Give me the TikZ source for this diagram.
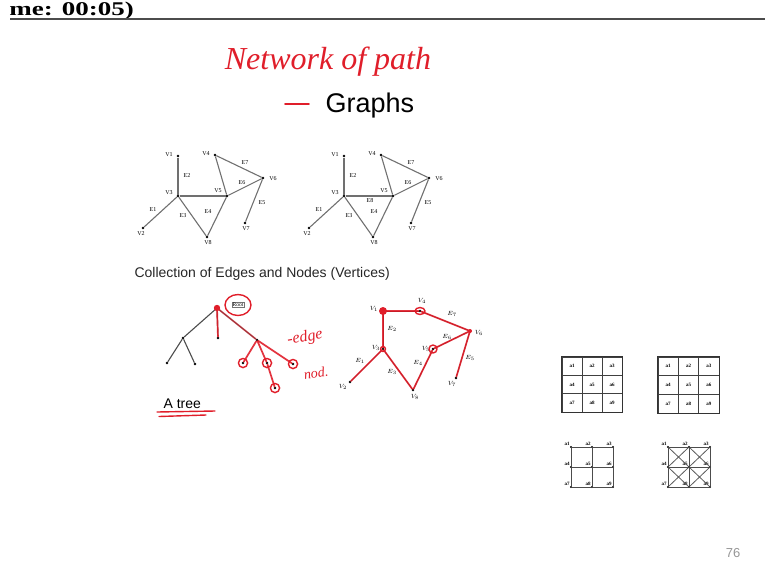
\documentclass[tikz,border=0pt]{standalone}
\usepackage{fontspec}
\setmainfont{Liberation Serif}
\setsansfont{Liberation Sans}
\usepackage{tikz}

\definecolor{ink}{RGB}{224,30,42}
\definecolor{edgegray}{RGB}{112,112,112}
\definecolor{pagegray}{RGB}{150,150,150}

\tikzset{
	vtx/.style={circle,fill=black,inner sep=0pt,minimum size=2.6pt},
	vlbl/.style={font=\fontsize{6}{6}\selectfont,inner sep=0.5pt},
	gedge/.style={draw=edgegray,line width=1.1pt},
	pen/.style={draw=ink,line width=1.4pt,line cap=round,line join=round},
	trace/.style={draw=ink,line width=1.7pt,opacity=0.9,line cap=round},
	cellbox/.style={draw=black!75,line width=0.8pt,minimum width=20pt,minimum height=18.3pt,inner sep=0pt,font=\bfseries\fontsize{5}{5}\selectfont},
	cell/.style={font=\bfseries\fontsize{5}{5}\selectfont,inner sep=0.3pt,label distance=0pt},
}

\begin{document}
\begin{tikzpicture}[x=1pt,y=-1pt]
	\useasboundingbox (0,0) rectangle (765,579);
	
	% header
	\node[anchor=base east,font=\bfseries\fontsize{27}{27}\selectfont,yscale=0.72,inner sep=0pt] (clock) at (134,15.5) {me: 00:05)};
	\draw[line width=1.2pt,draw=black!70] (10,19) -- (765,19);
	
	% title
	\node[font=\itshape\fontsize{32}{32}\selectfont,text=ink] (hand) at (328,62) {Network of path};
	\node[anchor=base west,font=\sffamily\fontsize{27}{27}\selectfont] (title) at (322,112) {Graphs};
	\draw[pen,line width=1.6pt] (285,104) -- (309,104);
	
	% the two graphs
	\foreach \g/\dx in {a/0,b/166}{
		\begin{scope}[xshift=\dx]
			\node[vtx] (\g1) at (178,156) {};
			\node[vtx] (\g2) at (143,228) {};
			\node[vtx] (\g3) at (178,196) {};
			\node[vtx] (\g4) at (215,155) {};
			\node[vtx] (\g5) at (227,196) {};
			\node[vtx] (\g6) at (263,178) {};
			\node[vtx] (\g7) at (245,223) {};
			\node[vtx] (\g8) at (207,237) {};
			\node[vlbl] (\g l1) at (169,155) {V1};
			\node[vlbl] (\g l2) at (141,234) {V2};
			\node[vlbl] (\g l3) at (169,193) {V3};
			\node[vlbl] (\g l4) at (206,154) {V4};
			\node[vlbl] (\g l5) at (218,191) {V5};
			\node[vlbl] (\g l6) at (273,179) {V6};
			\node[vlbl] (\g l7) at (246,229) {V7};
			\node[vlbl] (\g l8) at (208,243) {V8};
			\draw[gedge] (\g1) -- (\g3);
			\draw[gedge] (\g3) -- (\g2);
			\draw[gedge] (\g3) -- (\g5);
			\draw[gedge] (\g3) -- (\g8);
			\draw[gedge] (\g8) -- (\g5);
			\draw[gedge] (\g4) -- (\g5);
			\draw[gedge] (\g4) -- (\g6);
			\draw[gedge] (\g5) -- (\g6);
			\draw[gedge] (\g6) -- (\g7);
			\node[vlbl] (\g e1) at (153,210) {E1};
			\node[vlbl] (\g e2) at (187,176) {E2};
			\node[vlbl] (\g e3) at (183,216) {E3};
			\node[vlbl] (\g e4) at (208,212) {E4};
			\node[vlbl] (\g e5) at (262,203) {E5};
			\node[vlbl] (\g e6) at (242,183) {E6};
			\node[vlbl] (\g e7) at (245,163) {E7};
		\end{scope}
	}
	\node[vlbl] (be8) at (370,201) {E8};
	
	\node[anchor=base west,font=\sffamily\fontsize{14}{14}\selectfont,text=black!85] (caption) at (131,277) {Collection of Edges and Nodes (Vertices)};
	
	% tree
	\node[vtx] (root) at (217,308) {};
	\node[vtx] (t1) at (183,338) {};
	\node[vtx] (t2) at (218,338) {};
	\node[vtx] (t3) at (257,340) {};
	\node[vtx] (t11) at (167,363) {};
	\node[vtx] (t12) at (195,364) {};
	\node[vtx] (t31) at (243,363) {};
	\node[vtx] (t32) at (267,363) {};
	\node[vtx] (t33) at (293,364) {};
	\node[vtx] (t34) at (275,388) {};
	\draw[gedge,draw=black!70] (root) -- (t1);
	\draw[gedge,draw=black!70] (t1) -- (t11);
	\draw[gedge,draw=black!70] (t1) -- (t12);
	\draw[gedge,draw=black!70] (root) -- (t2);
	\draw[gedge,draw=black!70] (root) -- (t3);
	\draw[trace,opacity=0.6] (root) -- (t3);
	\draw[trace] (root) -- (t2);
	\draw[trace] (t3) -- (t31);
	\draw[trace] (t3) -- (t32) -- (t34);
	\draw[trace] (t3) -- (t33);
	\fill[ink] (root) circle (3.2pt);
	\foreach \n in {t31,t32,t33,t34}
		\draw[pen] (\n) circle (4.6pt);
	\node[draw=black!55,line width=0.3pt,inner sep=0.8pt,font=\fontsize{5.5}{5.5}\selectfont] (rootlbl) at (238,305) {Root};
	\draw[pen] (rootlbl) ellipse (13pt and 10.5pt);
	
	% notes
	\node[text=ink,font=\itshape\fontsize{16}{16}\selectfont,rotate=10] (edgeword) at (305,338) {-edge};
	\node[text=ink,font=\itshape\fontsize{14}{14}\selectfont,rotate=8] (nodword) at (316,373) {nod.};
	\node[anchor=base west,font=\sffamily\fontsize{14}{14}\selectfont] (treelbl) at (160,408) {A tree};
	\draw[pen] (157,412) -- (215,411);
	\draw[pen] (159,416.5) -- (206,415);
	
	% traced graph
	\node[vtx] (w1) at (383,311) {};
	\node[vtx] (w2) at (350,382) {};
	\node[vtx] (w3) at (383,349) {};
	\node[vtx] (w4) at (420,311) {};
	\node[vtx] (w5) at (433,349) {};
	\node[vtx] (w6) at (470,331) {};
	\node[vtx] (w7) at (456,378) {};
	\node[vtx] (w8) at (413,390) {};
	\node[vlbl] (wl1) at (374,309) {$V_1$};
	\node[vlbl] (wl2) at (343,387) {$V_2$};
	\node[vlbl] (wl3) at (376,348) {$V_3$};
	\node[vlbl] (wl4) at (422,301) {$V_4$};
	\node[vlbl] (wl5) at (426,349) {$V_5$};
	\node[vlbl] (wl6) at (479,333) {$V_6$};
	\node[vlbl] (wl7) at (452,384) {$V_7$};
	\node[vlbl] (wl8) at (415,397) {$V_8$};
	\foreach \p/\q in {w1/w4,w1/w3,w4/w6,w6/w5,w6/w7,w3/w2,w3/w8,w8/w5}{
		\draw[line width=0.6pt] (\p) -- (\q);
		\draw[trace] (\p) -- (\q);
	}
	\node[vlbl] (we1) at (360,361) {$E_1$};
	\node[vlbl] (we2) at (392,329) {$E_2$};
	\node[vlbl] (we3) at (392,372) {$E_3$};
	\node[vlbl] (we4) at (418,363) {$E_4$};
	\node[vlbl] (we5) at (470,358) {$E_5$};
	\node[vlbl] (we6) at (447,337) {$E_6$};
	\node[vlbl] (we7) at (452,314) {$E_7$};
	\fill[ink] (w1) circle (4pt);
	\fill[ink] (w6) circle (2pt);
	\draw[pen] (w4) ellipse (5pt and 3.5pt);
	\draw[pen] (w5) circle (4pt);
	\draw[pen] (w3) circle (2.5pt);
	
	% pixel grids
	\foreach \i in {0,1,2}
		\foreach \j in {0,1,2}{
			\pgfmathtruncatemacro\k{3*\i+\j+1}
			\node[cellbox] (p\k) at (572+20*\j,366.2+18.3*\i) {a\k};
			\node[cellbox,minimum width=20.3pt,minimum height=18.7pt] (r\k) at (668.2+20.3*\j,366.3+18.7*\i) {a\k};
		}
	\draw[line width=1pt,draw=black!80] (p1.north west) rectangle (p9.south east);
	\draw[line width=1pt,draw=black!80] (r1.north west) rectangle (r9.south east);
	
	\foreach \y [count=\i] in {447,467,487}
		\foreach \x [count=\j] in {571,592,613}{
			\pgfmathtruncatemacro\k{3*(\i-1)+\j}
			\node[vtx,minimum size=2.2pt,label={[cell]135:a\k}] (q\k) at (\x,\y) {};
			\node[vtx,minimum size=2.2pt,label={[cell]135:a\k}] (s\k) at (\x+97,\y) {};
		}
	\foreach \a/\b in {1/2,2/3,4/5,5/6,7/8,8/9,1/4,4/7,2/5,5/8,3/6,6/9}{
		\draw[line width=1pt,draw=black!70] (q\a) -- (q\b);
		\draw[line width=1pt,draw=black!70] (s\a) -- (s\b);
	}
	\foreach \a/\b in {1/5,2/4,2/6,3/5,4/8,5/7,5/9,6/8}
		\draw[line width=0.8pt,draw=black!65] (s\a) -- (s\b);
	
	% page number
	\node[font=\sffamily\fontsize{13}{13}\selectfont,text=pagegray] (pgno) at (733,553) {76};
\end{tikzpicture}
\end{document}
